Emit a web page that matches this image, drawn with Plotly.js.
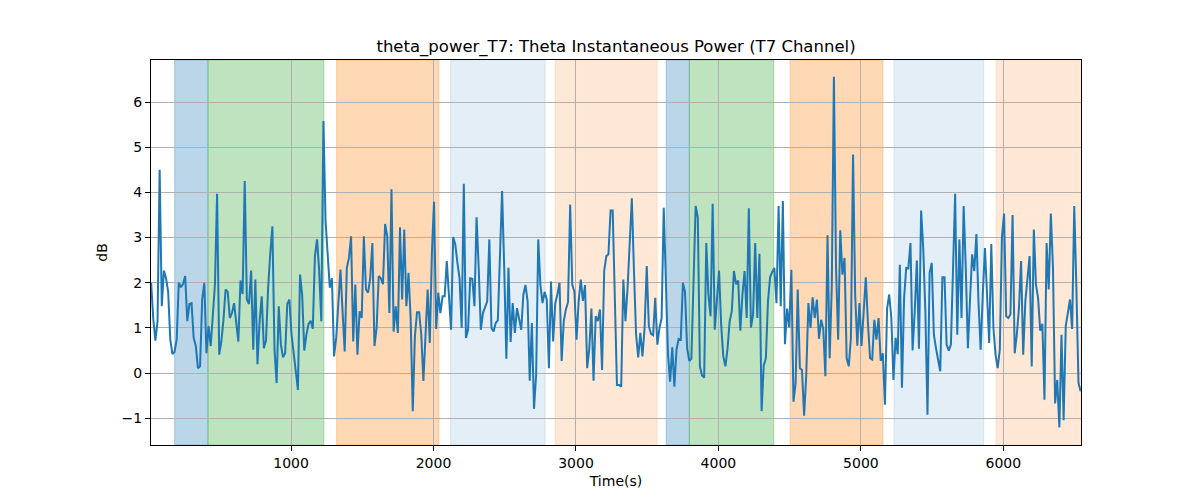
<!DOCTYPE html>
<html>
<head>
<meta charset="utf-8">
<script src="https://cdn.plot.ly/plotly-3.0.1.min.js"></script>
<style>
  body { margin: 0; background: #fff; }
  #chart { width: 1200px; height: 500px; }
</style>
</head>
<body>
<div id="chart"></div>
<script>
// theta power samples (dB)
const seg1 = [2.0, 1.2, 0.72, 1.15, 4.5, 1.48, 2.27, 2.1, 1.8, 0.74, 0.42, 0.47, 0.74, 2.0, 1.9, 1.97, 2.15, 1.15, 1.53, 1.55, 0.78, 0.6, 0.11, 0.15, 1.63, 2.0, 0.44, 1.04, 0.6, 1.3, 1.96, 3.97, 0.41, 0.7, 1.18, 1.85, 1.8, 1.22, 1.33, 1.55, 1.15, 0.7, 2.05, 1.75, 4.25, 1.63, 1.53, 2.27]
const seg2 = [0.52, 2.07, 0.2, 1.15, 1.7, 0.55, 0.72, 1.89, 2.64, 3.25, 0.52, -0.22, 1.48, 0.63, 0.35, 0.44, 1.53, 1.63, 0.85, 0.37, 0.04, -0.37, 2.18, 1.74, 0.5, 0.85, 1.09, 1.16, 0.98, 2.59, 2.96, 2.26, 1.15, 5.58, 3.37, 2.63, 1.89, 2.1, 0.37, 0.78, 1.52, 2.29, 1.37, 0.48, 2.33, 2.55, 3.03, 0.7, 1.96, 0.41]
const seg3 = [1.37, 1.22, 3.03, 1.85, 1.78, 2.1, 2.88, 0.6, 1.0, 2.15, 2.1, 1.97, 3.3, 3.03, 1.33, 4.07, 0.92, 1.48, 0.89, 3.23, 1.63, 3.18, 1.48, 2.22, 1.22, -0.84, 0.81, 1.35, 1.35, 0.85, -0.17, 1.0, 1.85, 0.67, 2.66, 3.79, 0.98, 1.78, 1.33, 1.7, 1.7, 2.48, 1.7, 0.96, 3.01, 2.85, 2.44, 2.1, 1.0]
const seg4 = [4.19, 0.78, 0.96, 2.1, 2.09, 1.48, 3.45, 2.33, 0.96, 1.33, 1.48, 1.59, 2.96, 1.0, 0.92, 1.11, 1.17, 2.48, 4.03, 2.33, 0.32, 2.33, 0.69, 1.55, 0.89, 1.44, 1.22, 0.96, 1.74, 1.95, 1.59, -0.17, 1.11, -0.79, -0.04, 2.96, 1.96, 1.55, 1.8, 1.63, 0.11, 2.03, 0.7, 1.55, 1.74, 2.0, 0.27, 1.15, 1.41]
const seg5 = [1.57, 3.73, 1.96, 1.8, 0.74, 1.59, 2.07, 1.6, 1.95, 0.11, 0.55, 1.43, -0.17, 1.26, 1.15, 1.41, 0.07, 2.26, 2.59, 2.63, 3.6, 3.6, 1.59, -0.26, -0.26, -0.3, 2.07, 1.15, 1.89, 2.92, 3.87, 2.26, 0.85, 0.35, 0.89, 0.37, 1.0, 2.37, 1.04, 0.87, 0.84, 1.67, 0.63, 1.0, 1.22, 3.66, 1.89, 0.41]
const seg6 = [-0.19, 0.57, -0.3, 0.52, 0.76, 0.74, 2.0, 1.8, 0.55, 0.27, 0.32, 1.89, 3.7, 3.45, 0.15, -0.05, -0.1, 2.88, 1.74, 1.26, 3.75, 0.96, 1.74, 2.27, 1.07, 0.37, 0.15, 0.55, 1.15, 1.37, 2.26, 1.97, 2.05, 0.94, 1.74, 2.26, 1.22, 3.65, 1.01, 1.3, 2.88, 1.22, 2.64, -0.84, 0.17, 0.32, 1.59, 2.12, 2.24]
const seg7 = [2.33, 1.55, 3.7, 1.48, 3.81, 0.64, 1.43, 1.01, 2.29, -0.63, -0.22, 1.85, 0.11, 0.07, -0.94, -0.04, 1.55, 1.0, 1.68, 1.22, 1.63, 0.76, 1.18, 0.98, -0.07, 3.05, 0.33, 1.89, 6.56, 2.33, 0.74, 3.16, 2.18, 2.55, 0.33, 0.15, 0.79, 4.84, 1.74, 0.61, 1.55, 0.6, 1.48, 2.12, 1.11, 0.33, 0.3, 1.18, 0.74]
const seg8 = [1.22, 0.27, 0.44, -0.7, 1.43, 1.74, 1.22, -0.15, 0.78, 0.42, 2.4, -0.32, 1.66, 2.33, 2.32, 2.88, 0.5, 1.37, 2.49, 0.54, 3.6, 2.77, 1.37, -0.92, 2.22, 2.44, 0.85, 0.55, 0.3, 0.04, 2.12, 2.12, 0.63, 0.5, 0.63, 2.18, 3.97, 0.85, 2.96, 1.22, 3.7, 2.33, 0.55, 1.63, 2.63, 2.26, 3.08, 1.55, 0.52]
const seg9 = [1.74, 2.77, 1.74, 0.67, 2.86, 1.0, 0.41, 0.11, 0.52, 3.01, 3.53, 1.26, 1.22, 1.3, 3.5, 0.44, 0.85, 1.44, 2.48, 0.41, 1.59, 2.03, 2.59, 0.15, 3.18, 1.96, 1.66, 0.94, 1.09, -0.59, 2.88, 1.85, 3.53, 2.33, -0.67, -0.15, -1.2, 0.85, -1.04, 1.04, 1.33, 1.63, 0.98, 3.7, 1.89, -0.22, -0.4]

// sampling of the time axis (s)
const timeStart = 18
const timeStep = 14.93

// shaded state intervals (s)
const bandStarts = [183, 417, 1320, 2120, 2854, 3633, 3796, 4503, 5233, 5948]
const bandEnds = [417, 1231, 2038, 2784, 3570, 3796, 4389, 5155, 5862, 6560]
const bandKinds = ['blue', 'green', 'orange', 'paleblue', 'paleorange', 'blue', 'green', 'orange', 'paleblue', 'paleorange']

const power = [].concat(seg1, seg2, seg3, seg4, seg5, seg6, seg7, seg8, seg9)

const kindColors = {
  blue: 'rgba(31,119,180,0.3)',
  green: 'rgba(44,160,44,0.3)',
  orange: 'rgba(255,127,14,0.3)',
  paleblue: 'rgba(31,119,180,0.12)',
  paleorange: 'rgba(255,127,14,0.17)',
}

const shapes = bandStarts.map((s, i) => ({
  type: 'rect',
  xref: 'x',
  yref: 'paper',
  x0: s,
  x1: bandEnds[i],
  y0: 0,
  y1: 1,
  fillcolor: kindColors[bandKinds[i]],
  line: { color: kindColors[bandKinds[i]], width: 1 },
  layer: 'below',
}))

const trace = {
  y: power,
  x0: timeStart,
  dx: timeStep,
  type: 'scatter',
  mode: 'lines',
  line: { color: '#1f77b4', width: 2 },
  hoverinfo: 'x+y',
}

const font = { family: 'DejaVu Sans, sans-serif', size: 14, color: '#000' }

const axisBase = {
  showline: true,
  mirror: true,
  linecolor: '#000',
  linewidth: 1,
  ticks: 'outside',
  ticklen: 5,
  tickwidth: 1,
  tickcolor: '#000',
  showgrid: true,
  gridcolor: '#b0b0b0',
  gridwidth: 0.8,
  zeroline: false,
  tickfont: font,
}

let layout = {
  width: 1200,
  height: 500,
  margin: { l: 151, r: 119, t: 60, b: 55 },
  paper_bgcolor: '#fff',
  plot_bgcolor: '#fff',
  showlegend: false,
  font: font,
  title: {
    text: 'theta_power_T7: Theta Instantaneous Power (T7 Channel)',
    font: { family: 'DejaVu Sans, sans-serif', size: 16.5, color: '#000' },
    xref: 'paper',
    x: 0.5,
    yref: 'container',
    y: 0.908,
    yanchor: 'middle',
  },
  xaxis: Object.assign({}, axisBase, {
    range: [17, 6545],
    tickvals: [1000, 2000, 3000, 4000, 5000, 6000],
    title: { text: 'Time(s)', font: font, standoff: 6 },
  }),
  yaxis: Object.assign({}, axisBase, {
    range: [-1.59, 6.93],
    tickvals: [-1, 0, 1, 2, 3, 4, 5, 6],
    title: { text: 'dB', font: font, standoff: 10 },
  }),
  shapes: shapes,
}

Plotly.newPlot('chart', [trace], layout, { displayModeBar: false, responsive: false })
</script>
</body>
</html>
